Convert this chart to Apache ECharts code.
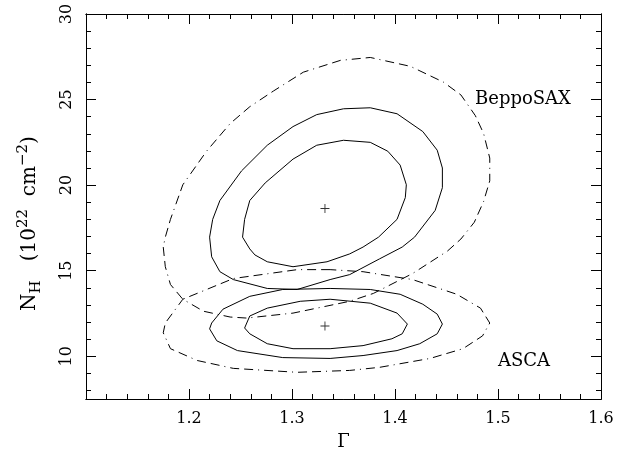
<!DOCTYPE html>
<html>
<head>
<meta charset="utf-8">
<script src="https://cdn.jsdelivr.net/npm/echarts@6/dist/echarts.min.js"></script>
<style>
  html, body { margin: 0; padding: 0; background: #fff; }
  #chart { width: 631px; height: 456px; }
</style>
</head>
<body>
<div id="chart"></div>
<script>
// axis ranges and ticks
var xRange = [1.1, 1.6];
var yRange = [7.5, 30];
var xMajor = [1.2, 1.3, 1.4, 1.5, 1.6];
var xMinor = [1.12, 1.14, 1.16, 1.18, 1.22, 1.24, 1.26, 1.28, 1.32, 1.34, 1.36, 1.38,
              1.42, 1.44, 1.46, 1.48, 1.52, 1.54, 1.56, 1.58];
var yMajor = [10, 15, 20, 25, 30];
var yMinor = [8, 9, 11, 12, 13, 14, 16, 17, 18, 19, 21, 22, 23, 24, 26, 27, 28, 29];

// best fit points (Gamma, NH)
var bestFits = [[1.332, 18.63], [1.332, 11.77]];

// BeppoSAX contours
var saxOuter = [[1.175,16.38],[1.177,15.23],[1.182,14.19],[1.194,13.33],[1.214,12.63],[1.240,12.29],
  [1.256,12.23],[1.301,12.52],[1.356,13.21],[1.379,13.67],[1.417,14.83],[1.451,16.15],[1.464,16.85],
  [1.477,17.83],[1.486,19.04],[1.492,20.25],[1.492,21.58],[1.486,23.02],[1.478,24.06],[1.464,25.27],
  [1.447,26.02],[1.415,26.94],[1.376,27.46],[1.347,27.29],[1.311,26.60],[1.282,25.50],[1.259,24.58],
  [1.240,23.60],[1.217,21.98],[1.194,20.02],[1.182,18.00],[1.177,16.96],[1.175,16.38]];
var saxMid = [[1.220,16.96],[1.222,15.81],[1.230,14.94],[1.243,14.48],[1.276,13.96],[1.305,13.90],
  [1.337,14.48],[1.356,14.77],[1.385,15.69],[1.407,16.38],[1.419,16.96],[1.439,18.52],[1.446,19.85],
  [1.446,21.00],[1.441,22.04],[1.427,23.13],[1.402,24.17],[1.376,24.52],[1.350,24.46],[1.324,24.12],
  [1.301,23.42],[1.276,22.33],[1.251,20.83],[1.230,19.10],[1.223,18.00],[1.220,16.96]];
var saxInner = [[1.252,16.96],[1.259,16.27],[1.264,15.92],[1.276,15.52],[1.301,15.23],[1.334,15.52],
  [1.356,15.98],[1.369,16.38],[1.384,16.96],[1.402,18.00],[1.410,19.27],[1.411,20.02],[1.405,21.17],
  [1.393,21.98],[1.376,22.50],[1.350,22.62],[1.324,22.33],[1.301,21.52],[1.274,20.13],[1.259,19.10],
  [1.254,18.00],[1.252,16.96]];

// ASCA contours
var ascaOuter = [[1.337,15.06],[1.305,15.06],[1.243,14.54],[1.194,13.33],[1.177,11.94],[1.175,11.37],
  [1.182,10.44],[1.208,9.75],[1.243,9.29],[1.305,9.06],[1.356,9.17],[1.385,9.35],[1.434,9.87],
  [1.466,10.44],[1.485,11.19],[1.492,11.94],[1.483,12.81],[1.460,13.62],[1.417,14.48],[1.369,14.94],
  [1.337,15.06]];
var ascaMid = [[1.337,13.96],[1.291,13.90],[1.259,13.50],[1.233,12.75],[1.222,11.94],[1.220,11.60],
  [1.227,10.90],[1.247,10.33],[1.291,9.92],[1.337,9.87],[1.369,10.04],[1.402,10.33],[1.424,10.73],
  [1.441,11.31],[1.446,11.88],[1.441,12.46],[1.427,13.04],[1.405,13.62],[1.376,13.90],[1.337,13.96]];
var ascaInner = [[1.337,13.33],[1.308,13.21],[1.276,12.81],[1.259,12.35],[1.254,11.65],[1.259,11.31],
  [1.276,10.73],[1.301,10.44],[1.337,10.44],[1.369,10.62],[1.397,11.02],[1.407,11.31],[1.412,11.88],
  [1.402,12.52],[1.376,13.10],[1.337,13.33]];

var serif = 'DejaVu Serif';
var chart = echarts.init(document.getElementById('chart'));

function frameAxis(pos, range, ticks, len, extra) {
    var ax = {
        type: 'value', position: pos, min: range[0], max: range[1],
        axisLine: {show: true, onZero: false, lineStyle: {color: '#000', width: 1}},
        axisTick: {show: true, inside: true, length: len, customValues: ticks,
                   lineStyle: {color: '#000', width: 1}},
        axisLabel: {show: false},
        splitLine: {show: false}
    };
    return Object.assign(ax, extra || {});
}

function contour(pts, dashed) {
    return {
        type: 'line', data: pts, showSymbol: false, smooth: false, silent: true,
        lineStyle: {color: '#000', width: 1, type: dashed ? [9, 5, 9, 5, 1, 5] : 'solid'}
    };
}

var xLabelAxis = frameAxis('bottom', xRange, xMajor, 10, {
    name: 'Γ', nameLocation: 'middle', nameGap: 34,
    nameTextStyle: {fontFamily: serif, fontSize: 18, color: '#000'}
});
xLabelAxis.axisLabel = {show: true, customValues: xMajor, margin: 12,
    fontFamily: serif, fontSize: 16, color: '#000'};

var yLabelAxis = frameAxis('left', yRange, yMajor, 10, {
    name: 'N{sub|H}   (10{sup|22}  cm{sup|−2})', nameLocation: 'middle', nameRotate: 90, nameGap: 42,
    nameTextStyle: {fontFamily: serif, fontSize: 20, color: '#000', lineHeight: 28,
        padding: [0, 34, 0, 0],
        rich: {
            sub: {fontFamily: serif, fontSize: 15, lineHeight: 15, verticalAlign: 'bottom', color: '#000'},
            sup: {fontFamily: serif, fontSize: 15, lineHeight: 15, verticalAlign: 'top', color: '#000'}
        }}
});
yLabelAxis.axisLabel = {show: true, customValues: yMajor, rotate: 90, margin: 11,
    fontFamily: serif, fontSize: 16, color: '#000'};

var option = {
    animation: false,
    backgroundColor: '#fff',
    grid: {left: 86, right: 30, top: 14, bottom: 52, containLabel: false},
    xAxis: [
        xLabelAxis,
        frameAxis('bottom', xRange, xMinor, 5),
        frameAxis('top', xRange, xMajor, 10),
        frameAxis('top', xRange, xMinor, 5)
    ],
    yAxis: [
        yLabelAxis,
        frameAxis('left', yRange, yMinor, 5),
        frameAxis('right', yRange, yMajor, 10),
        frameAxis('right', yRange, yMinor, 5)
    ],
    series: [
        contour(saxOuter, true),
        contour(saxMid, false),
        contour(saxInner, false),
        contour(ascaOuter, true),
        contour(ascaMid, false),
        contour(ascaInner, false),
        {
            type: 'scatter', data: bestFits, symbolSize: 9, silent: true,
            symbol: 'path://M4.5,0h1v10h-1zM0,4.5h10v1h-10z',
            itemStyle: {color: '#000'}
        }
    ],
    graphic: [
        {type: 'text', left: 475, top: 90,
         style: {text: 'BeppoSAX', fontFamily: serif, fontSize: 18, fill: '#000'}},
        {type: 'text', left: 498, top: 352,
         style: {text: 'ASCA', fontFamily: serif, fontSize: 18, fill: '#000'}}
    ]
};

chart.setOption(option);
</script>
</body>
</html>
